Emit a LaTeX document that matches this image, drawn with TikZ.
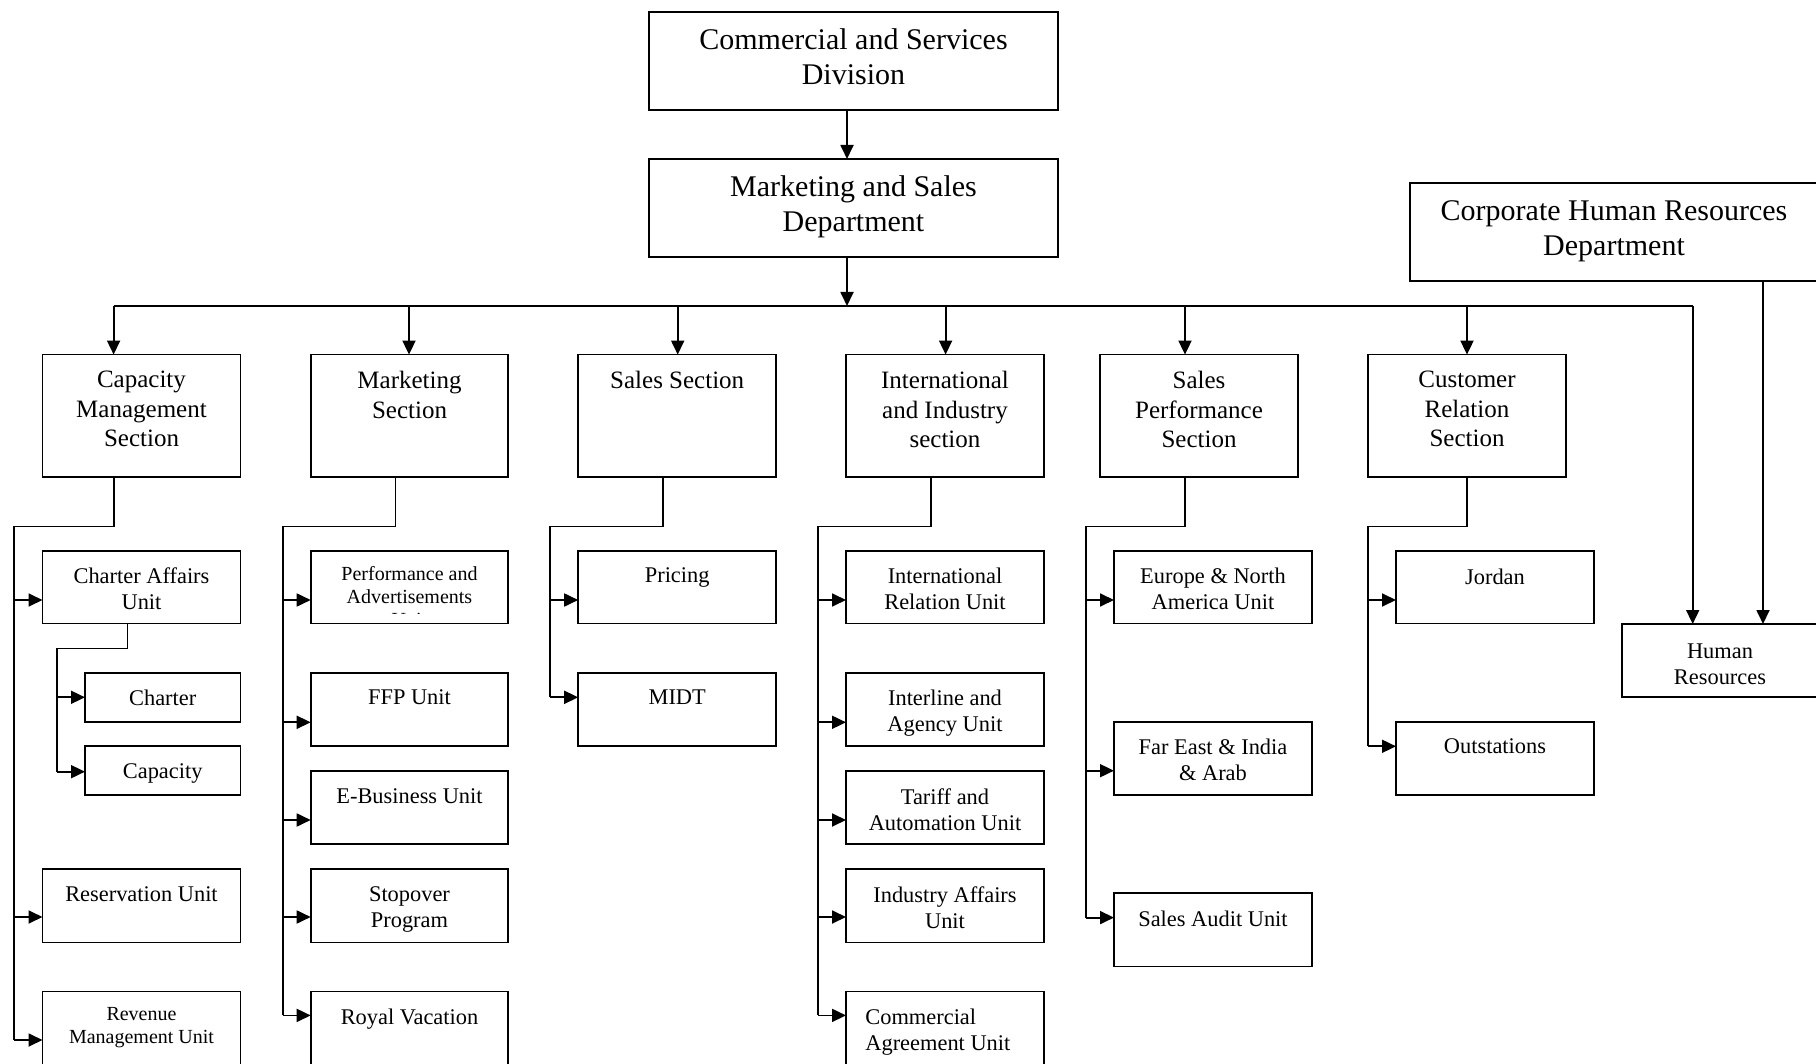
\documentclass[tikz,border=0pt]{standalone}
\usepackage{fontspec}
\setmainfont{Liberation Serif}
\usetikzlibrary{arrows.meta}

% rectangle node given by its corners: name, x1, y1, x2, y2
\newcommand\orgbox[5]{%
  \pgfmathsetmacro\obw{#4-#2}%
  \pgfmathsetmacro\obh{#5-#3}%
  \node[box,minimum width=\obw pt,minimum height=\obh pt] (#1) at ({(#2+#4)/2},{(#3+#5)/2}) {};}
% arrow from a trunk line into the left side of a box at height #3
\newcommand\feed[3]{\draw[arr] (#1 |- 0,#3) -- (#2.west |- 0,#3);}

\begin{document}
\begin{tikzpicture}[x=1pt,y=-1pt,
  box/.style={draw,line width=1.8pt,inner sep=0pt,outer sep=0pt},
  lbl/.style={inner sep=0pt,outer sep=0pt,align=center,anchor=north},
  big/.style={font=\fontsize{30}{35}\selectfont},
  sec/.style={font=\fontsize{25}{29.5}\selectfont,yshift=-1.2pt},
  unit/.style={font=\fontsize{22.4}{26}\selectfont,yshift=-2.5pt},
  small/.style={font=\fontsize{20}{23}\selectfont,yshift=-2pt},
  link/.style={line width=1.8pt},
  arr/.style={link,-{Triangle[length=14pt,width=13pt]}}]

\useasboundingbox (0,0) rectangle (1816,1064);
\clip (0,0) rectangle (1816,1064);

% ---------- upper levels ----------
\orgbox{csd}{649}{12}{1058}{110}
\node[lbl,big] (csd-t) at (853.5,29) {Commercial and Services\\Division};
\orgbox{msd}{649}{159}{1058}{257}
\node[lbl,big] (msd-t) at (853.5,176) {Marketing and Sales\\Department};
\orgbox{chr}{1410}{183}{1818}{281}
\node[lbl,big] (chr-t) at (1614,201) {Corporate Human Resources\\Department};
\orgbox{hr}{1622}{624}{1818}{697}
\node[lbl,unit] (hr-t) at (1720,641) {Human\\Resources};

% ---------- sections ----------
\orgbox{cms}{42.5}{354.6}{240.4}{477}
\node[lbl,sec] (cms-t) at (141.5,370) {Capacity\\Management\\Section};
\orgbox{mks}{310.7}{354.6}{508.2}{477}
\node[lbl,sec] (mks-t) at (409.5,370) {Marketing\\Section};
\orgbox{sls}{578.2}{354.6}{776.2}{477}
\node[lbl,sec] (sls-t) at (677.2,370) {Sales Section};
\orgbox{iis}{846}{354.6}{1043.8}{477}
\node[lbl,sec] (iis-t) at (945,370) {International\\and Industry\\section};
\orgbox{sps}{1100}{354.6}{1297.9}{477}
\node[lbl,sec] (sps-t) at (1199,370) {Sales\\Performance\\Section};
\orgbox{crs}{1367.9}{354.6}{1566}{477}
\node[lbl,sec] (crs-t) at (1467,370) {Customer\\Relation\\Section};

% ---------- capacity management units ----------
\orgbox{caf}{42.5}{551}{240.4}{623.5}
\node[lbl,unit] (caf-t) at (141.5,565) {Charter Affairs\\Unit};
\orgbox{cht}{85}{672.9}{240.4}{722.3}
\node[lbl,unit] (cht-t) at (162.7,687.6) {Charter};
\orgbox{cap}{85}{746.3}{240.4}{795.2}
\node[lbl,unit] (cap-t) at (162.7,761.5) {Capacity};
\orgbox{res}{42.5}{869}{240.4}{942.5}
\node[lbl,unit] (res-t) at (141.5,884) {Reservation Unit};
\orgbox{rev}{42.5}{991.4}{240.4}{1080}
\node[lbl,small] (rev-t) at (141.5,1005.7) {Revenue\\Management Unit};

% ---------- marketing units ----------
\orgbox{pad}{310.7}{551}{508.2}{623.5}
\begin{scope}
  \clip (310.7,551) rectangle (508.2,613);
  \node[lbl,small] (pad-t) at (409.5,564.4) {Performance and\\Advertisements\\Unit};
\end{scope}
\orgbox{ffp}{310.7}{672.9}{508.2}{746.3}
\node[lbl,unit] (ffp-t) at (409.5,687.6) {FFP Unit};
\orgbox{ebu}{310.7}{770.7}{508.2}{844.2}
\node[lbl,unit] (ebu-t) at (409.5,786) {E-Business Unit};
\orgbox{stp}{310.7}{869}{508.2}{942.5}
\node[lbl,unit] (stp-t) at (409.5,884) {Stopover\\Program};
\orgbox{roy}{310.7}{991.4}{508.2}{1080}
\node[lbl,unit] (roy-t) at (409.5,1006) {Royal Vacation};

% ---------- sales units ----------
\orgbox{prc}{578.2}{551}{776.2}{623.5}
\node[lbl,unit] (prc-t) at (677.2,565) {Pricing};
\orgbox{mid}{578.2}{672.9}{776.2}{746.3}
\node[lbl,unit] (mid-t) at (677.2,687.6) {MIDT};

% ---------- international and industry units ----------
\orgbox{iru}{846}{551}{1043.8}{623.5}
\node[lbl,unit] (iru-t) at (945,565) {International\\Relation Unit};
\orgbox{iau}{846}{672.9}{1043.8}{746.3}
\node[lbl,unit] (iau-t) at (945,687.6) {Interline and\\Agency Unit};
\orgbox{tau}{846}{770.7}{1043.8}{844.2}
\node[lbl,unit] (tau-t) at (945,786) {Tariff and\\Automation Unit};
\orgbox{ifa}{846}{869}{1043.8}{942.5}
\node[lbl,unit] (ifa-t) at (945,884) {Industry Affairs\\Unit};
\orgbox{cau}{846}{991.4}{1043.8}{1080}
\node[lbl,unit,align=left,anchor=north west] (cau-t) at (865.4,1006) {Commercial\\Agreement Unit};

% ---------- sales performance units ----------
\orgbox{ena}{1114}{551}{1312}{623.5}
\node[lbl,unit] (ena-t) at (1213,565) {Europe \& North\\America Unit};
\orgbox{fei}{1114}{722.3}{1312}{795.2}
\node[lbl,unit] (fei-t) at (1213,736) {Far East \& India\\\& Arab};
\orgbox{sau}{1114}{893}{1312}{966.5}
\node[lbl,unit] (sau-t) at (1213,908) {Sales Audit Unit};

% ---------- customer relation units ----------
\orgbox{jor}{1396}{551}{1594}{623.5}
\node[lbl,unit] (jor-t) at (1495,566) {Jordan};
\orgbox{out}{1396}{722.3}{1594}{795.2}
\node[lbl,unit] (out-t) at (1495,736) {Outstations};

% ---------- top chain and distribution bus ----------
\coordinate (top) at (847,306);
\coordinate (d1) at (113.6,306);
\coordinate (d2) at (409,306);
\coordinate (d3) at (677.7,306);
\coordinate (d4) at (945.6,306);
\coordinate (d5) at (1185,306);
\coordinate (d6) at (1467,306);
\coordinate (d7) at (1692.7,306);
\coordinate (hrx) at (1763,0);

\draw[arr] (csd.south -| top) -- (msd.north -| top);
\draw[arr] (msd.south -| top) -- (top);
\draw[link] (d1) -- (d7);
\draw[arr] (d1) -- (cms.north -| d1);
\draw[arr] (d2) -- (mks.north -| d2);
\draw[arr] (d3) -- (sls.north -| d3);
\draw[arr] (d4) -- (iis.north -| d4);
\draw[arr] (d5) -- (sps.north -| d5);
\draw[arr] (d6) -- (crs.north -| d6);
\draw[arr] (d7) -- (hr.north -| d7);
\draw[arr] (chr.south -| hrx) -- (hr.north -| hrx);

% ---------- branch trunks ----------
\coordinate (t1) at (14.3,526.5);
\coordinate (t1s) at (113.6,0);
\draw[link] (cms.south -| t1s) |- (t1) -- (t1 |- 0,1040);
\feed{t1}{caf}{600}
\feed{t1}{res}{917}
\feed{t1}{rev}{1040}

\coordinate (t1b) at (56.8,648.4);
\coordinate (t1bs) at (127.5,0);
\draw[link] (caf.south -| t1bs) |- (t1b) -- (t1b |- 0,771.7);
\feed{t1b}{cht}{697.3}
\feed{t1b}{cap}{771.7}

\coordinate (t2) at (282.9,526.5);
\coordinate (t2s) at (395.4,0);
\draw[link] (mks.south -| t2s) |- (t2) -- (t2 |- 0,1015.4);
\feed{t2}{pad}{600}
\feed{t2}{ffp}{722.3}
\feed{t2}{ebu}{820}
\feed{t2}{stp}{917}
\feed{t2}{roy}{1015.4}

\coordinate (t3) at (550.3,526.5);
\coordinate (t3s) at (663,0);
\draw[link] (sls.south -| t3s) |- (t3) -- (t3 |- 0,697.3);
\feed{t3}{prc}{600}
\feed{t3}{mid}{697.3}

\coordinate (t4) at (818.2,526.5);
\coordinate (t4s) at (930.8,0);
\draw[link] (iis.south -| t4s) |- (t4) -- (t4 |- 0,1015.4);
\feed{t4}{iru}{600}
\feed{t4}{iau}{722.3}
\feed{t4}{tau}{820}
\feed{t4}{ifa}{917}
\feed{t4}{cau}{1015.4}

\coordinate (t5) at (1086,526.5);
\coordinate (t5s) at (1185,0);
\draw[link] (sps.south -| t5s) |- (t5) -- (t5 |- 0,917.6);
\feed{t5}{ena}{600}
\feed{t5}{fei}{770.7}
\feed{t5}{sau}{917.6}

\coordinate (t6) at (1367.9,526.5);
\coordinate (t6s) at (1467,0);
\draw[link] (crs.south -| t6s) |- (t6) -- (t6 |- 0,746.3);
\feed{t6}{jor}{600}
\feed{t6}{out}{746.3}

\end{tikzpicture}
\end{document}
